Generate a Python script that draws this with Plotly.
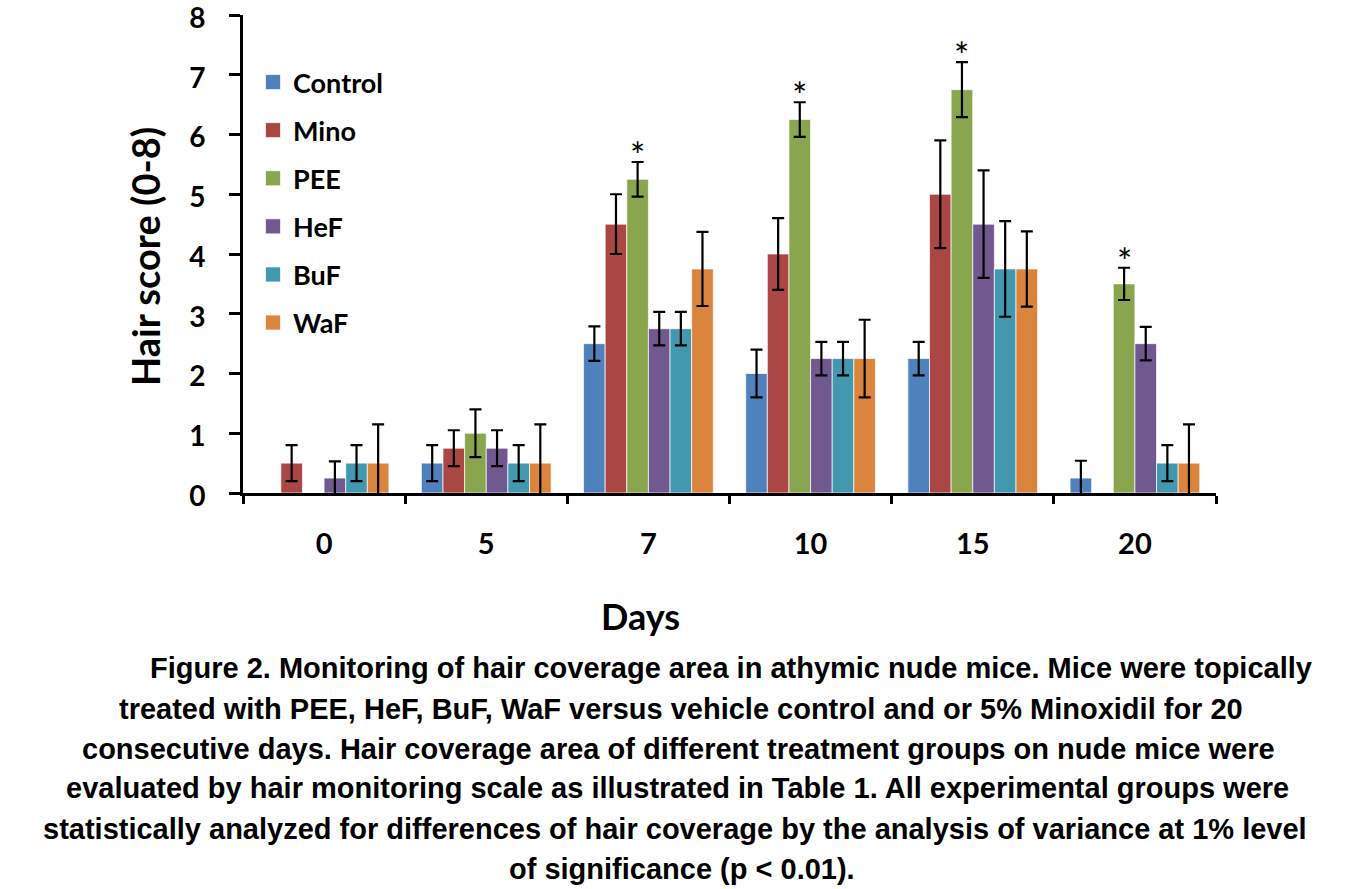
import plotly.graph_objects as go

days = ["0", "5", "7", "10", "15", "20"]
series_names = ["Control", "Mino", "PEE", "HeF", "BuF", "WaF"]
colors = ["#4F81BD", "#AA4643", "#89A54E", "#71588F", "#4198AF", "#DB843D"]

control = [None, 0.5, 2.5, 2.0, 2.25, 0.25]
control_err = [None, 0.3, 0.29, 0.4, 0.28, 0.29]
mino = [0.5, 0.75, 4.5, 4.0, 5.0, None]
mino_err = [0.3, 0.3, 0.5, 0.6, 0.9, None]
pee = [None, 1.0, 5.25, 6.25, 6.75, 3.5]
pee_err = [None, 0.4, 0.29, 0.29, 0.46, 0.27]
hef = [0.25, 0.75, 2.75, 2.25, 4.5, 2.5]
hef_err = [0.28, 0.3, 0.28, 0.28, 0.9, 0.28]
buf = [0.5, 0.5, 2.75, 2.25, 3.75, 0.5]
buf_err = [0.3, 0.3, 0.28, 0.28, 0.8, 0.3]
waf = [0.5, 0.5, 3.75, 2.25, 3.75, 0.5]
waf_err = [0.65, 0.65, 0.62, 0.65, 0.63, 0.65]

values = [control, mino, pee, hef, buf, waf]
errors = [control_err, mino_err, pee_err, hef_err, buf_err, waf_err]
significant = [False, False, True, True, True, True]  # asterisk over PEE

y_ticks = [0, 1, 2, 3, 4, 5, 6, 7, 8]

caption_lines = [
    "Figure 2. Monitoring of hair coverage area in athymic nude mice. Mice were topically",
    "treated with PEE, HeF, BuF, WaF versus vehicle control and or 5% Minoxidil for 20",
    "consecutive days. Hair coverage area of different treatment groups on nude mice were",
    "evaluated by hair monitoring scale as illustrated in Table 1. All experimental groups were",
    "statistically analyzed for differences of hair coverage by the analysis of variance at 1% level",
    "of significance (p < 0.01).",
]

# page body margin is removed by the post script below
OFF = 0
W, H = 1361, 889
# plot area in page pixels: x 243..1216, y 15..493
L, T = 243 - OFF, 15 - OFF
R, B = W - (1216 - OFF), H - (493 - OFF)
PW, PH = W - L - R, H - T - B


def px_x(px):
    return (px - OFF - L) / PW


def px_y(py):
    return (H - B - (py - OFF)) / PH


LATO = "Lato"
fig = go.Figure()
for i, name in enumerate(series_names):
    fig.add_trace(go.Bar(
        x=days, y=values[i], name=name, showlegend=False,
        marker=dict(color=colors[i], line=dict(color="rgba(255,255,255,0.7)", width=1)),
        error_y=dict(type="data", array=errors[i], visible=True,
                     color="black", thickness=2.2, width=6),
    ))
# legend entries (square swatches)
for i, name in enumerate(series_names):
    fig.add_trace(go.Scatter(
        x=[None], y=[None], mode="markers", name=name, legendgroup=name,
        marker=dict(symbol="square", size=15, color=colors[i],
                    line=dict(color="rgba(255,255,255,0.7)", width=1)),
    ))

annotations = []
# asterisks over PEE bars
bar_w = PW / len(days) * 0.8 / len(series_names)
for j, d in enumerate(days):
    if significant[j] and pee[j] is not None:
        annotations.append(dict(
            x=j, y=pee[j] + pee_err[j], xref="x", yref="y", text="*",
            showarrow=False, xshift=-0.5 * bar_w, yshift=-17, yanchor="bottom",
            font=dict(family=LATO, size=36, color="black"),
        ))

# axis titles
annotations.append(dict(x=px_x(640), y=px_y(616), xref="paper", yref="paper",
                        text="<b>Days</b>", showarrow=False,
                        font=dict(family=LATO, size=36, color="black"),
                        xanchor="center", yanchor="middle"))
annotations.append(dict(x=px_x(145), y=px_y(257), xref="paper", yref="paper",
                        text="<b>Hair score (0-8)</b>", showarrow=False, textangle=-90,
                        font=dict(family=LATO, size=38, color="black"),
                        xanchor="center", yanchor="middle"))

# caption
cap_centers = [731, 681, 678, 677, 675, 682]
cap_y = [668, 709, 749, 788, 829, 869]
for k, line in enumerate(caption_lines):
    annotations.append(dict(x=px_x(cap_centers[k]), y=px_y(cap_y[k]), xref="paper", yref="paper",
                            text="<b>" + line + "</b>", showarrow=False,
                            font=dict(family="Liberation Sans, Arial", size=29, color="black"),
                            xanchor="center", yanchor="middle"))

fig.update_layout(
    width=W, height=H,
    margin=dict(l=L, r=R, t=T, b=B, pad=0, autoexpand=False),
    paper_bgcolor="white", plot_bgcolor="white",
    barmode="group", bargap=0.2, bargroupgap=0,
    showlegend=True,
    legend=dict(x=px_x(253), y=px_y(58), xanchor="left", yanchor="top",
                font=dict(family=LATO, size=27, color="black", weight="bold"),
                tracegroupgap=10, bgcolor="rgba(0,0,0,0)", itemclick=False),
    annotations=annotations,
    xaxis=dict(type="category", range=[-0.5, len(days) - 0.5], automargin=False,
               showline=True, linecolor="black", linewidth=3,
               ticks="outside", tickson="boundaries", ticklen=8, tickwidth=3, tickcolor="black",
               tickfont=dict(family=LATO, size=29, color="black", weight="bold"),
               ticklabelstandoff=23, showgrid=False, zeroline=False, fixedrange=True),
    yaxis=dict(range=[0, 8], tickmode="array", tickvals=y_ticks, automargin=False,
               showline=True, linecolor="black", linewidth=3,
               ticks="outside", ticklen=11, tickwidth=3, tickcolor="black",
               tickfont=dict(family=LATO, size=28, color="black", weight="bold"),
               ticklabelstandoff=18, ticklabelshift=3, ticklabeloverflow="allow",
               showgrid=False, zeroline=False, fixedrange=True),
)

fig.write_html("out.html", config={"displayModeBar": False},
               post_script="document.body.style.margin='0';document.body.style.overflow='hidden';")
